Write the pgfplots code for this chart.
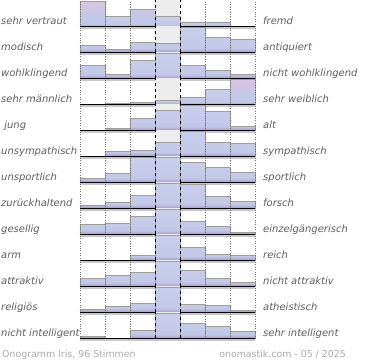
\documentclass[border=0pt]{standalone}
\usepackage{pgfplots}
\pgfplotsset{compat=1.18}
\usepgfplotslibrary{groupplots}
\usepackage{fontspec}
\setmainfont{DejaVu Sans}
\definecolor{bartop}{HTML}{C8CFEB}
\definecolor{barmid}{HTML}{C2C8E7}
\definecolor{barbot}{HTML}{A896CC}
\definecolor{pinktop}{HTML}{DBC4E4}
\definecolor{labgray}{HTML}{5E5E5E}
\definecolor{foot}{HTML}{AAAAAA}
\pgfdeclareverticalshading{blueshade}{100bp}{color(0bp)=(barbot); color(25bp)=(barbot); color(33bp)=(barmid); color(75bp)=(bartop); color(100bp)=(bartop)}
\pgfdeclareverticalshading{pinkshade}{100bp}{color(0bp)=(barbot); color(25bp)=(barbot); color(30bp)=(barmid); color(45bp)=(barmid); color(75bp)=(pinktop); color(100bp)=(pinktop)}
\pgfplotsset{
  barblue/.style={ybar, bar width=1, bar shift=0pt, draw=black!38, line width=0.6pt,
    shading=blueshade},
  barpink/.style={ybar, bar width=1, bar shift=0pt, draw=black!38, line width=0.6pt,
    shading=pinkshade},
}
\tikzset{lab/.style={font=\fontsize{10}{12}\selectfont\itshape, text=labgray, inner sep=0pt}}
\newcommand\onorow[3]{%
  \nextgroupplot
  \fill[black!7] (axis cs:3,0) rectangle (axis cs:4,1.04);
  \draw[black!22, line width=1.2pt] ([yshift=-1.6pt]rel axis cs:0,0) -- ([yshift=-1.6pt]rel axis cs:1,0);
  \addplot[barblue] coordinates {#3};
  \node[lab, anchor=base west] at ([xshift=-79pt]rel axis cs:0,0.077) {#1};
  \node[lab, anchor=base west] at ([xshift=8pt]rel axis cs:1,0.077) {#2};
}
\begin{document}
\begin{tikzpicture}
\begin{groupplot}[
  group style={group size=1 by 13, vertical sep=0pt},
  scale only axis, width=175pt, height=26pt,
  xmin=0, xmax=7, ymin=0, ymax=1.04,
  axis x line*=bottom, axis y line=none,
  x axis line style={-, line width=1.6pt, black},
  xtick={0,1,2,5,6,7}, xticklabels={},
  extra x ticks={3,4}, extra x tick labels={},
  extra x tick style={grid style={dashed, black, line width=0.8pt}},
  major tick length=0pt,
  xmajorgrids, grid style={dotted, black!55, line width=0.6pt},
  axis on top, clip=false,
]
\onorow{sehr vertraut}{fremd}{(1.5,0.40) (3.5,0.42) (4.5,0.18) (5.5,0.18)}
\addplot[barpink] coordinates {(0.5,1.0) (2.5,0.69)};
\onorow{modisch}{antiquiert}{(0.5,0.29) (1.5,0.13) (2.5,0.41) (3.5,0.35) (4.5,1.0) (5.5,0.60) (6.5,0.52)}
\onorow{wohlklingend}{nicht wohlklingend}{(0.5,0.53) (1.5,0.15) (2.5,0.73) (3.5,1.0) (4.5,0.52) (5.5,0.33) (6.5,0.17)}
\onorow{sehr männlich}{sehr weiblich}{(1.5,0.03) (2.5,0.07) (3.5,0.16) (4.5,0.29) (5.5,0.60)}
\addplot[barpink] coordinates {(6.5,1.0)};
\onorow{\ jung}{alt}{(1.5,0.07) (2.5,0.49) (3.5,0.80) (4.5,1.0) (5.5,0.77) (6.5,0.15)}
\onorow{unsympathisch}{sympathisch}{(1.5,0.20) (2.5,0.24) (3.5,0.57) (4.5,1.0) (5.5,0.55) (6.5,0.52)}
\onorow{unsportlich}{sportlich}{(0.5,0.17) (1.5,0.35) (2.5,1.0) (3.5,1.0) (4.5,0.80) (5.5,0.61) (6.5,0.39)}
\onorow{zurückhaltend}{forsch}{(0.5,0.12) (1.5,0.24) (2.5,0.53) (3.5,1.0) (4.5,0.96) (5.5,0.48) (6.5,0.28)}
\onorow{gesellig}{einzelgängerisch}{(0.5,0.39) (1.5,0.43) (2.5,0.73) (3.5,1.0) (4.5,0.53) (5.5,0.33) (6.5,0.07)}
\onorow{arm}{reich}{(2.5,0.20) (3.5,1.0) (4.5,0.52) (5.5,0.25) (6.5,0.21)}
\onorow{attraktiv}{nicht attraktiv}{(0.5,0.31) (1.5,0.43) (2.5,0.55) (3.5,1.0) (4.5,0.64) (5.5,0.33) (6.5,0.17)}
\onorow{religiös}{atheistisch}{(0.5,0.13) (1.5,0.25) (2.5,0.37) (3.5,1.0) (4.5,0.33) (5.5,0.29) (6.5,0.07)}
\onorow{nicht intelligent}{sehr intelligent}{(0.5,0.07) (2.5,0.31) (3.5,1.0) (4.5,0.59) (5.5,0.49) (6.5,0.27)}
\end{groupplot}
\node[anchor=base west, font=\fontsize{9.4}{11}\selectfont, text=foot, inner sep=0pt] at ([xshift=-78pt,yshift=-19pt]group c1r13.south west) {Onogramm Iris, 96 Stimmen};
\node[anchor=base east, font=\fontsize{9.4}{11}\selectfont, text=foot, inner sep=0pt] at ([xshift=91pt,yshift=-19pt]group c1r13.south east) {onomastik.com - 05 / 2025};
\path ([xshift=-80pt]group c1r1.north west) rectangle ([xshift=115pt,yshift=-22pt]group c1r13.south east);
\end{tikzpicture}
\end{document}
